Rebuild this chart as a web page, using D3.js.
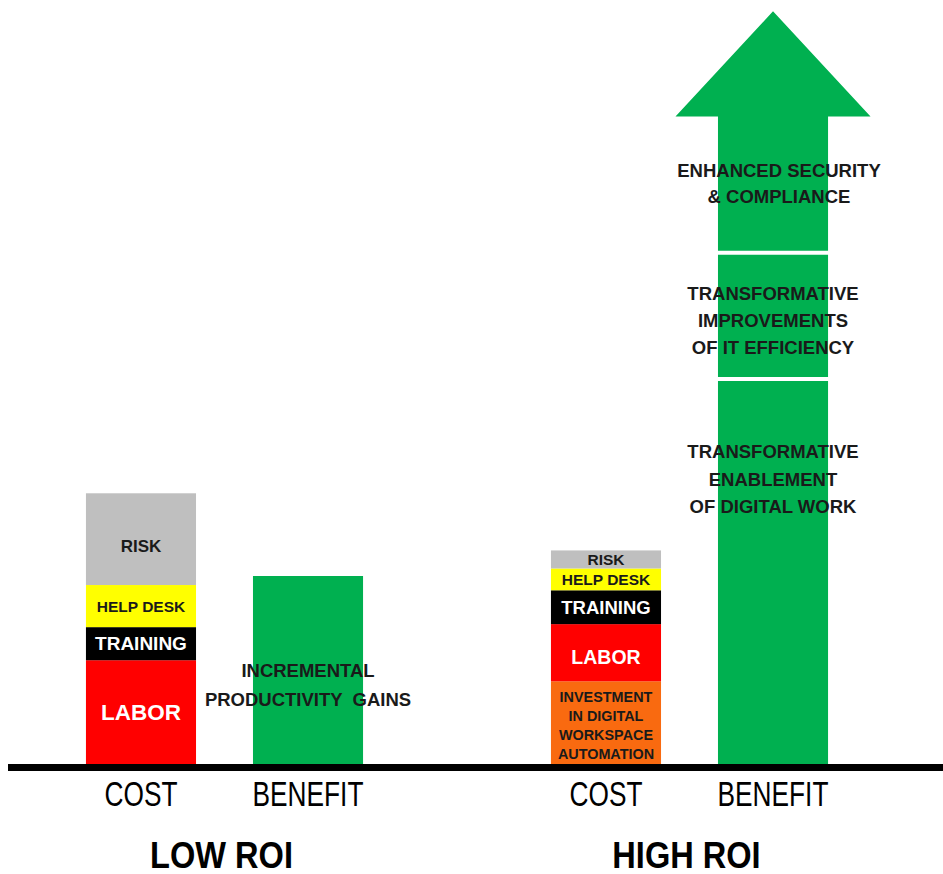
<!DOCTYPE html>
<html><head><meta charset="utf-8">
<script src="https://cdn.jsdelivr.net/npm/d3@7"></script>
<style>html,body{margin:0;padding:0;background:#fff;} svg{display:block} text{white-space:pre}</style>
</head><body><svg id="chart" width="943" height="874"></svg>
<script>
// ---------- DATA ----------
const groups = ["LOW ROI", "HIGH ROI"];
const barKinds = ["COST", "BENEFIT"];
const lowCostLabels = ["LABOR", "TRAINING", "HELP DESK", "RISK"];
const lowCostValues = [13.8, 4.4, 5.6, 12.2];
const lowBenefitLabels = ["INCREMENTAL\nPRODUCTIVITY  GAINS"];
const lowBenefitValues = [25.0];
const highCostLabels = ["INVESTMENT\nIN DIGITAL\nWORKSPACE\nAUTOMATION", "LABOR", "TRAINING", "HELP DESK", "RISK"];
const highCostValues = [11.0, 7.6, 4.5, 2.9, 2.4];
const highBenefitLabels = ["TRANSFORMATIVE\nENABLEMENT\nOF DIGITAL WORK", "TRANSFORMATIVE\nIMPROVEMENTS\nOF IT EFFICIENCY", "ENHANCED SECURITY\n& COMPLIANCE"];
const highBenefitValues = [51.2, 16.8, 18.1];
const highBenefitArrowHead = [14.0];

// ---------- STYLES ----------
const segColors = {
  "LABOR": "#ff0000", "TRAINING": "#000000", "HELP DESK": "#ffff00", "RISK": "#bfbfbf",
  "INVESTMENT": "#f96a10", "BENEFIT": "#00b050"
};
const textDark = "#1a1a1a";
function colorFor(label, kind) {
  if (kind === "BENEFIT") return segColors.BENEFIT;
  const key = label.split("\n")[0];
  return segColors[key] || segColors.INVESTMENT;
}
// per-bar label styles: [fontSize, lineHeight, anchorFraction, textColor, dx]
const labelStyle = {
  "LOW ROI|COST": [[22.5, 0, 0.5, "#fff", 0], [19, 0, 0.5, "#fff", 0], [15.5, 0, 0.5, textDark, 0], [17, 0, 0.43, textDark, 0]],
  "LOW ROI|BENEFIT": [[18.5, 29, 0.42, textDark, 0]],
  "HIGH ROI|COST": [[14.4, 19, 0.47, textDark, 0], [19.5, 0, 0.42, "#fff", 0], [18.5, 0, 0.5, "#fff", 0], [15.5, 0, 0.5, textDark, 0], [15.5, 0, 0.5, textDark, 0]],
  "HIGH ROI|BENEFIT": [[18.5, 27.5, 0.74, textDark, 0], [18.5, 27, 0.46, textDark, 0], [18.5, 26.5, 0.51, textDark, 6]]
};

const bars = [
  { group: "LOW ROI", kind: "COST", labels: lowCostLabels, values: lowCostValues },
  { group: "LOW ROI", kind: "BENEFIT", labels: lowBenefitLabels, values: lowBenefitValues },
  { group: "HIGH ROI", kind: "COST", labels: highCostLabels, values: highCostValues },
  { group: "HIGH ROI", kind: "BENEFIT", labels: highBenefitLabels, values: highBenefitValues, head: highBenefitArrowHead[0] }
];

// ---------- SCALES ----------
const W = 943, H = 874;
const svg = d3.select("#chart");
const outer = d3.scaleBand().domain(groups).range([-8, 922]).padding(0);
const inner = d3.scaleBand().domain(barKinds).range([0, outer.bandwidth()])
  .paddingInner(0.341).paddingOuter(0.5625);
const y = d3.scaleLinear().domain([0, 100]).range([764, 12]);
const bw = inner.bandwidth();
const xOf = d => outer(d.group) + inner(d.kind);

const gBars = svg.append("g");
const gText = svg.append("g");

bars.forEach(b => {
  const x0 = xOf(b);
  const x1 = x0 + bw;
  const cx = x0 + bw / 2;
  let cum = 0;
  const styles = labelStyle[b.group + "|" + b.kind];
  const segs = b.values.map((v, i) => { const s = { label: b.labels[i], v, start: cum, end: cum + v, style: styles[i] }; cum += v; return s; });

  segs.forEach((s, i) => {
    const isTop = i === segs.length - 1;
    if (b.head && isTop) {
      const baseY = y(s.end);
      const tipY = y(s.end + b.head);
      const hw = bw * 0.886;
      const pts = [[x0, y(s.start)], [x0, baseY], [cx - hw, baseY], [cx, tipY], [cx + hw, baseY], [x1, baseY], [x1, y(s.start)]];
      gBars.append("path").attr("d", d3.line()(pts) + "Z").attr("fill", colorFor(s.label, b.kind));
    } else {
      gBars.append("rect").attr("x", x0).attr("y", y(s.end)).attr("width", bw)
        .attr("height", y(s.start) - y(s.end)).attr("fill", colorFor(s.label, b.kind));
    }
  });
  if (b.kind === "BENEFIT" && segs.length > 1) {
    segs.slice(1).forEach(s => {
      gBars.append("line").attr("x1", x0 - 1).attr("x2", x1 + 1)
        .attr("y1", y(s.start)).attr("y2", y(s.start))
        .attr("stroke", "#fff").attr("stroke-width", 4);
    });
  }
  segs.forEach(s => {
    const [fs, lh, frac, col, dx] = s.style;
    const lines = s.label.split("\n");
    const center = y(s.start + frac * s.v);
    const cap = 0.716 * fs;
    lines.forEach((ln, k) => {
      gText.append("text").attr("x", cx + dx)
        .attr("y", center + (k - (lines.length - 1) / 2) * lh + cap / 2)
        .attr("text-anchor", "middle")
        .attr("font-family", "'Liberation Sans', Arial, sans-serif")
        .attr("font-weight", "bold").attr("font-size", fs)
        .attr("fill", col).text(ln);
    });
  });

  // category label under bar
  svg.append("text").attr("transform", `translate(${cx},806) scale(0.75,1)`)
    .attr("text-anchor", "middle")
    .attr("font-family", "'Liberation Sans', Arial, sans-serif")
    .attr("font-size", 35).attr("fill", "#000").text(b.kind);
});

// baseline
svg.append("rect").attr("x", 8).attr("y", y(0)).attr("width", W - 8).attr("height", 7).attr("fill", "#000");

// group titles
groups.forEach(g => {
  const cx = outer(g) + outer.bandwidth() / 2 - 3;
  svg.append("text").attr("transform", `translate(${cx},868) scale(0.88,1)`)
    .attr("text-anchor", "middle")
    .attr("font-family", "'Liberation Sans', Arial, sans-serif")
    .attr("font-weight", "bold").attr("font-size", 37).attr("fill", "#000").text(g);
});
</script>
</body></html>
